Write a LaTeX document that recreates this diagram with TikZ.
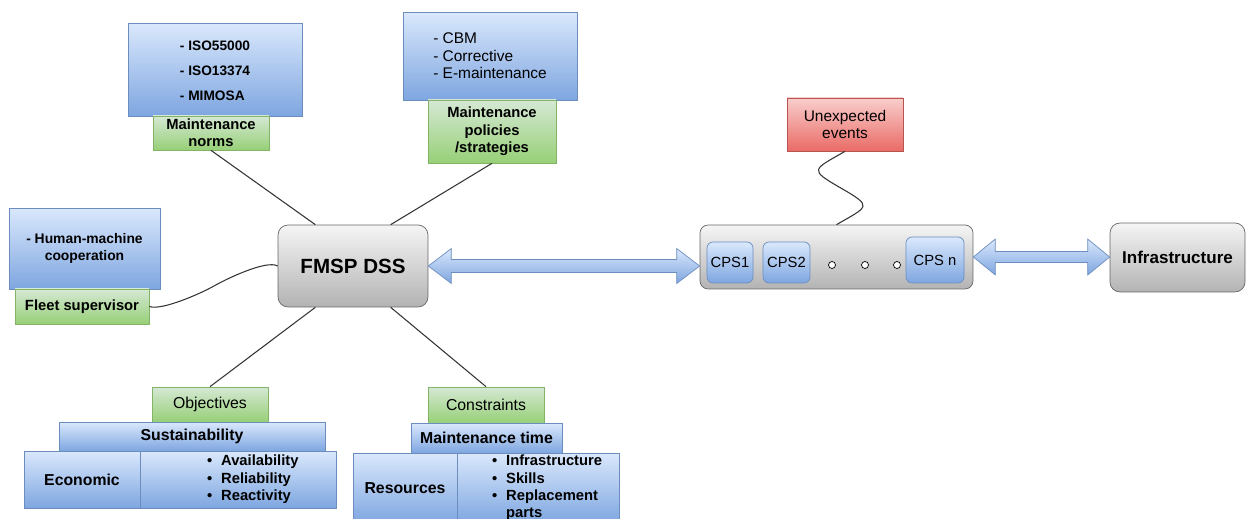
\documentclass[tikz,border=0pt]{standalone}
\usepackage{fontspec}
\setmainfont{Liberation Sans}
\usepackage{tikz}
\usetikzlibrary{calc}
\definecolor{blueTop}{HTML}{DAE8FC}
\definecolor{blueBot}{HTML}{7EA6E0}
\definecolor{blueLine}{HTML}{6C8EBF}
\definecolor{greenTop}{HTML}{D5E8D4}
\definecolor{greenBot}{HTML}{97D077}
\definecolor{greenLine}{HTML}{82B366}
\definecolor{redTop}{HTML}{F8CECC}
\definecolor{redBot}{HTML}{EA6B66}
\definecolor{redLine}{HTML}{B85450}
\definecolor{grayTop}{HTML}{F5F5F5}
\definecolor{grayBot}{HTML}{B3B3B3}
\definecolor{grayLine}{HTML}{666666}
\definecolor{linkGray}{HTML}{333333}
% block arrow with two heads: from, to, head length, head half width, shaft half width
\newcommand{\dblarrow}[5]{\path[arrowfill] (#1) -- ++(#3,-#4) -- ++(0,#4-#5) -- ($(#2)+(-#3,-#5)$) -- ++(0,#5-#4) -- (#2) -- ++(-#3,#4) -- ++(0,#5-#4) -- ($(#1)+(#3,#5)$) -- ++(0,#4-#5) -- cycle;}
\newcommand{\bitem}[2]{\hspace*{#1}\textbullet\hspace{0.18cm}#2}

\begin{document}
\begin{tikzpicture}[x=0.02cm,y=-0.02cm,
	bluebox/.style={draw=blueLine,top color=blueTop,bottom color=blueBot,inner sep=0pt,align=center,font=\fontsize{8.4}{9.9}\selectfont\bfseries},
	greenbox/.style={draw=greenLine,top color=greenTop,bottom color=greenBot,inner sep=0pt,align=center,font=\fontsize{8.4}{9.9}\selectfont\bfseries},
	redbox/.style={draw=redLine,top color=redTop,bottom color=redBot,inner sep=0pt,align=center,font=\fontsize{8.4}{9.9}\selectfont\bfseries},
	graybox/.style={draw=grayLine,top color=grayTop,bottom color=grayBot,inner sep=0pt,align=center,font=\fontsize{8.4}{9.9}\selectfont\bfseries},
	plain/.style={font=\fontsize{8.8}{9.9}\selectfont},
	big/.style={font=\fontsize{9}{10}\selectfont\bfseries},
	dotc/.style={draw=black,fill=white,circle,inner sep=0pt,minimum size=0.14cm},
	arrowfill/.style={draw=blueLine,top color=blueTop,bottom color=blueBot},
	link/.style={draw=linkGray,line width=0.6pt}]
\useasboundingbox (0,0) rectangle (1247,519);
\clip (0,0) rectangle (1247,519);

%upper boxes
\node[bluebox,minimum width=3.48cm,minimum height=1.86cm,align=left,font=\fontsize{7.8}{14.2}\selectfont\bfseries] (iso) at (215,69.5) {\\[-0.25cm]- ISO55000\\- ISO13374\\- MIMOSA};
\node[greenbox,minimum width=2.32cm,minimum height=0.68cm] (norms) at (211,133) {Maintenance\\norms};
\node[bluebox,plain,minimum width=3.48cm,minimum height=1.76cm,align=left] (cbm) at (490,56) {- CBM\\- Corrective\\- E-maintenance};
\node[greenbox,minimum width=2.56cm,minimum height=1.26cm] (policies) at (492,131.5) {Maintenance\\policies\\/strategies};
\node[bluebox,minimum width=3.02cm,minimum height=1.62cm,font=\fontsize{7.9}{9.9}\selectfont\bfseries] (hmc) at (84.5,248.5) {- Human-machine\\cooperation};
\node[greenbox,minimum width=2.68cm,minimum height=0.70cm] (fleet) at (82,306.5) {Fleet supervisor};
\node[graybox,rounded corners=0.2cm,minimum width=3.0cm,minimum height=1.64cm,font=\fontsize{11.7}{14}\selectfont\bfseries] (dss) at (353,266) {FMSP DSS};

%cps side
\node[redbox,plain,minimum width=2.32cm,minimum height=1.06cm] (events) at (845,124.5) {Unexpected\\events};
\node[graybox,rounded corners=0.16cm,minimum width=5.46cm,minimum height=1.28cm] (cps) at (836.5,257) {};
\node[bluebox,plain,font=\fontsize{8.4}{9.9}\selectfont,rounded corners=0.12cm,minimum width=0.92cm,minimum height=0.82cm] (cps1) at (730,262.5) {CPS1};
\node[bluebox,plain,font=\fontsize{8.4}{9.9}\selectfont,rounded corners=0.12cm,minimum width=0.94cm,minimum height=0.82cm] (cps2) at (786.5,262.5) {CPS2};
\node[bluebox,plain,font=\fontsize{8.4}{9.9}\selectfont,rounded corners=0.12cm,minimum width=1.16cm,minimum height=0.92cm] (cpsn) at (935,260) {CPS n};
\foreach \x [count=\i] in {832,865,897}
	\node[dotc] (dot\i) at (\x,265) {};
\node[graybox,rounded corners=0.2cm,minimum width=2.7cm,minimum height=1.38cm,font=\fontsize{9.7}{11}\selectfont\bfseries] (infra) at (1177.5,257.5) {Infrastructure};

%objectives
\node[greenbox,font=\fontsize{9}{10}\selectfont,minimum width=2.32cm,minimum height=0.70cm] (obj) at (210,404.5) {Objectives};
\node[bluebox,big,minimum width=5.32cm,minimum height=0.58cm] (sust) at (192,436.5) {Sustainability};
\node[bluebox,big,minimum width=2.32cm,minimum height=1.14cm] (eco) at (82,479.5) {Economic};
\node[bluebox,minimum height=1.14cm,text width=3.92cm,align=left] (objlist) at (238,479.5) {\bitem{1.34cm}{Availability}\\\bitem{1.34cm}{Reliability}\\\bitem{1.34cm}{Reactivity}};

%constraints
\node[greenbox,font=\fontsize{9}{10}\selectfont,minimum width=2.32cm,minimum height=0.72cm] (cons) at (486,405) {Constraints};
\node[bluebox,big,minimum width=3.02cm,minimum height=0.60cm] (mtime) at (486.5,438) {Maintenance time};
\node[bluebox,big,minimum width=2.08cm,minimum height=1.40cm] (res) at (405,488) {Resources};
\node[bluebox,minimum height=1.40cm,text width=3.24cm,align=left] (reslist) at (538,488) {\bitem{0.7cm}{Infrastructure}\\\bitem{0.7cm}{Skills}\\\bitem{0.7cm}{Replacement}\\\hspace*{0.7cm}\phantom{\textbullet}\hspace{0.18cm}parts};

\begin{scope}[link]
%straight lines
\draw (norms.south) -- ($(dss.north)!0.5!(dss.north west)$);
\draw (policies.south) -- ($(dss.north)!0.5!(dss.north east)$);
\draw ($(dss.south)!0.5!(dss.south west)$) -- (obj.north);
\draw ($(dss.south)!0.5!(dss.south east)$) -- (cons.north);
%curved lines
\draw (fleet.east) to[out=-20,in=210,looseness=0.5] ($(fleet.east)!0.5!(dss.west)$) to[out=30,in=150,looseness=0.5] (dss.west);
\draw (events.south) to[out=-150,in=150,looseness=2.6] ($(events.south)!0.5!(cps.north)$) to[out=-30,in=30,looseness=2.6] (cps.north);
\end{scope}

%block arrows
\dblarrow{dss.east}{dss.east -| cps.west}{23}{17.5}{6.5}
\dblarrow{cps.east}{cps.east -| infra.west}{22}{18}{5.5}
\end{tikzpicture}
\end{document}
